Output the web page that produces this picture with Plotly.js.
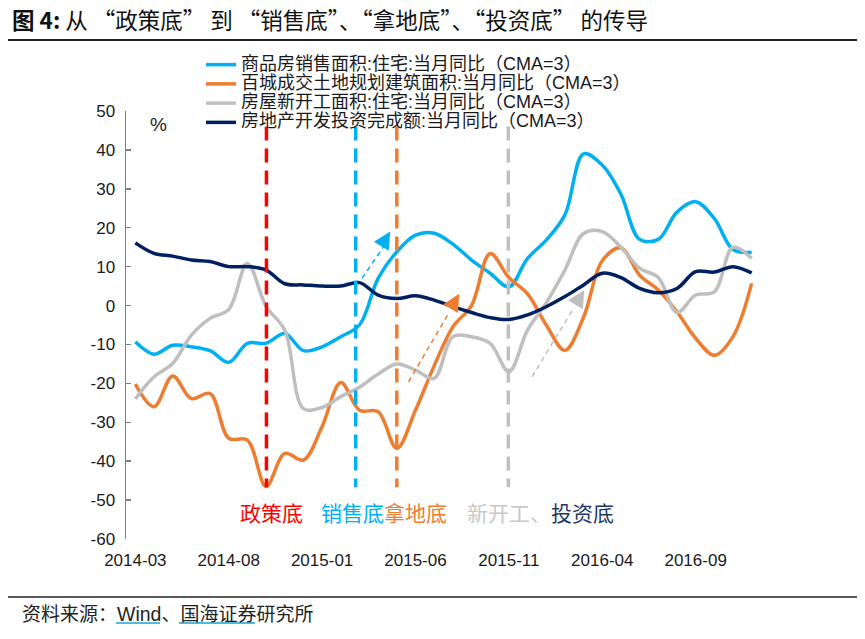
<!DOCTYPE html>
<html><head><meta charset="utf-8">
<script src="https://cdn.plot.ly/plotly-3.0.1.min.js"></script>
<style>html,body{margin:0;padding:0;background:#fff}#chart{width:865px;height:639px}</style>
</head><body><div id="chart"></div>
<script>
// ---- data ----
const months = ['2014-03','2014-04','2014-05','2014-06','2014-07','2014-08','2014-09','2014-10','2014-11','2014-12',
  '2015-01','2015-02','2015-03','2015-04','2015-05','2015-06','2015-07','2015-08','2015-09','2015-10',
  '2015-11','2015-12','2016-01','2016-02','2016-03','2016-04','2016-05','2016-06','2016-07','2016-08',
  '2016-09','2016-10','2016-11','2016-12'];
// 商品房销售面积:住宅:当月同比（CMA=3）
const salesArea = [-9.3,-12.5,-10.2,-10.6,-11.6,-14.6,-9.7,-9.7,-7.2,-11.6,
  -10.6,-8.0,-5.0,7.0,13.8,18.1,18.6,15.8,11.7,8.3,
  4.8,12.1,16.8,23.3,39.0,36.1,28.6,17.0,17.0,24.0,
  26.7,22.4,14.4,13.7];
// 百城成交土地规划建筑面积:当月同比（CMA=3）
const landArea = [-20.2,-26.0,-18.1,-23.9,-22.6,-34.1,-34.6,-46.5,-38.0,-39.7,
  -31.1,-19.8,-26.9,-27.3,-36.7,-26.9,-15.5,-5.5,0.0,13.4,
  7.2,3.0,-5.0,-11.5,-3.0,11.5,14.8,7.8,4.0,-1.6,
  -8.4,-12.8,-8.0,5.7];
// 房屋新开工面积:住宅:当月同比（CMA=3）
const newStarts = [-24.0,-18.3,-14.9,-7.6,-3.3,-1.0,10.8,-0.2,-6.3,-26.5,
  -26.2,-23.4,-21.0,-17.6,-15.0,-16.6,-18.7,-8.0,-8.0,-9.7,
  -17.0,-6.3,0.7,9.1,18.5,19.0,15.0,9.6,7.2,-1.8,
  2.7,3.5,15.0,12.1];
// 房地产开发投资完成额:当月同比（CMA=3）
const investment = [16.1,13.4,12.7,11.7,11.3,10.0,10.0,9.1,5.6,5.3,
  5.0,5.0,5.9,2.7,1.8,2.5,1.4,-0.3,-1.8,-3.1,
  -3.6,-2.4,-0.3,2.3,5.3,8.3,7.2,4.4,3.3,4.4,
  8.7,8.6,10.0,8.4];
const seriesNames = ['商品房销售面积:住宅:当月同比（CMA=3）','百城成交土地规划建筑面积:当月同比（CMA=3）',
  '房屋新开工面积:住宅:当月同比（CMA=3）','房地产开发投资完成额:当月同比（CMA=3）'];
const tickLabels = ['2014-03','2014-08','2015-01','2015-06','2015-11','2016-04','2016-09'];
const yTickVals = [-60,-50,-40,-30,-20,-10,0,10,20,30,40,50];
const yTickText = ['-60','-50','-40','-30','-20','-10','0','10','20','30','40','50'];
const yRange = [-60, 50];

// ---- styling ----
const colors = ['#00B0F0','#ED7D31','#BFBFBF','#002060'];
const seriesData = [salesArea, landArea, newStarts, investment];
const CJK = 'Noto Sans CJK SC';
const LAT = 'Liberation Sans, Arial, Noto Sans CJK SC';

const traces = seriesData.map((vals, i) => ({
  type: 'scatter', mode: 'lines', x: months, y: vals,
  name: '<span style="font-size:18px">' + seriesNames[i] + '</span>',
  line: {color: colors[i], width: 3.5, shape: 'spline', smoothing: 1},
  hoverinfo: 'skip'
}));

const zeroPos = -yRange[0] / (yRange[1] - yRange[0]);
const boundaryTicks = tickLabels.slice(1).map(t => months.indexOf(t) - 0.5);

function vline(x, color) {
  return {type:'line', xref:'x', yref:'y', x0:x, x1:x, y0:46, y1:-46.7,
    line:{color:color, width:3.5, dash:'14px,8px'}, layer:'above'};
}
function dline(x0, y0, x1, y1, color) {
  return {type:'line', xref:'x', yref:'y', x0:x0, y0:y0, x1:x1, y1:y1,
    line:{color:color, width:1.5, dash:'5px,4px'}, layer:'above'};
}
function arrowHead(x, y, ax, ay, color) {
  return {xref:'x', yref:'y', x:x, y:y, ax:ax, ay:ay, text:'', showarrow:true,
    arrowhead:2, arrowsize:2.3, arrowwidth:1.5, arrowcolor:color};
}
const px = (p) => (p - 539) / -428; // pixel row -> paper y
const pxx = (p) => (p - 126) / 635; // pixel col -> paper x

const layout = {
  width: 865, height: 639,
  margin: {l:126, r:104, t:111, b:100},
  paper_bgcolor: '#fff', plot_bgcolor: '#fff',
  showlegend: true,
  title: {text: '<b>图 4:</b> 从 “政策底” 到 “销售底”、“拿地底”、“投资底” 的传导',
    font:{family: CJK, size:22.5, color:'#111'},
    x: 12/865, xref:'container', xanchor:'left', y: 1 - 21/639, yref:'container', yanchor:'middle'},
  legend: {x: pxx(201), y: px(50), xanchor:'left', yanchor:'top', bgcolor:'rgba(0,0,0,0)',
    font:{family: LAT, size:12.5, color:'#1a1a1a'}, traceorder:'normal'},
  xaxis: {type:'category', range:[-0.5, months.length - 0.5], tickvals: tickLabels, ticktext: tickLabels,
    ticks:'', showline:false, showgrid:false, zeroline:false, fixedrange:true,
    tickfont:{family: LAT, size:17, color:'#1a1a1a'}, ticklabelstandoff: 9},
  xaxis2: {overlaying:'x', anchor:'free', position: zeroPos, type:'linear',
    range:[-0.5, months.length - 0.5], tickvals: boundaryTicks, ticks:'inside', ticklen:5,
    tickwidth:1.5, tickcolor:'#7f7f7f', showline:true, linecolor:'#7f7f7f', linewidth:1.5,
    showticklabels:false, showgrid:false, zeroline:false, fixedrange:true},
  yaxis: {range: yRange, tickvals: yTickVals, ticktext: yTickText, ticks:'inside', ticklen:5,
    tickwidth:1.5, tickcolor:'#7f7f7f', showline:true, linecolor:'#7f7f7f', linewidth:1.5,
    showgrid:false, zeroline:false, fixedrange:true,
    tickfont:{family: LAT, size:17, color:'#1a1a1a'}, ticklabelstandoff: 6},
  shapes: [
    vline(7.02, '#FF0000'), vline(11.8, '#00B0F0'), vline(14.0, '#ED7D31'), vline(19.97, '#BFBFBF'),
    dline(12.14, 7.0, 13.3, 15.2, '#00B0F0'),
    dline(14.63, -19.6, 16.8, -1.8, '#ED7D31'),
    dline(21.24, -18.3, 23.5, -0.4, '#BFBFBF'),
    {type:'line', xref:'paper', yref:'paper', x0:pxx(8), x1:pxx(857), y0:px(40), y1:px(40), line:{color:'#222', width:2}},
    {type:'line', xref:'paper', yref:'paper', x0:pxx(8), x1:pxx(857), y0:px(597), y1:px(597), line:{color:'#222', width:1.5}},
    {type:'line', xref:'paper', yref:'paper', x0:pxx(116), x1:pxx(160), y0:px(623), y1:px(623), line:{color:'#1BA1C8', width:1.5}},
    {type:'line', xref:'paper', yref:'paper', x0:pxx(179), x1:pxx(255), y0:px(623), y1:px(623), line:{color:'#1BA1C8', width:1.5}}
  ],
  annotations: [
    {xref:'paper', yref:'paper', x:pxx(158), y:px(125), xanchor:'center', yanchor:'middle', text:'%', showarrow:false,
      font:{family: LAT, size:19, color:'#1a1a1a'}},
    arrowHead(13.65, 19.0, -7.3, 12, '#00B0F0'),
    arrowHead(17.34, 3.0, -7, 12.1, '#ED7D31'),
    arrowHead(24.04, 4.0, -7.2, 12, '#BFBFBF'),
    {xref:'x', yref:'y', x:7.31, y:-53.1, xanchor:'center', yanchor:'middle', text:'<span style="color:#FF0000">政策底</span>', showarrow:false,
      font:{family: CJK, size:21}},
    {xref:'x', yref:'y', x:13.33, y:-53.1, xanchor:'center', yanchor:'middle', text:'<span style="color:#00B0F0">销售底</span><span style="color:#ED7D31">拿地底</span>', showarrow:false,
      font:{family: CJK, size:21}},
    {xref:'x', yref:'y', x:21.68, y:-53.1, xanchor:'center', yanchor:'middle', text:'<span style="color:#C8C8C8">新开工、</span><span style="color:#1F3864">投资底</span>', showarrow:false,
      font:{family: CJK, size:21}},
    {xref:'paper', yref:'paper', x:pxx(20), y:px(612), xanchor:'left', yanchor:'middle', showarrow:false,
      text:'资料来源：<span style="font-family:Liberation Sans, Arial;font-size:19.5px">Wind</span>、国海证券研究所',
      font:{family: CJK, size:19, color:'#222'}}
  ]
};

Plotly.newPlot('chart', traces, layout, {displayModeBar:false, staticPlot:true});
</script>
</body></html>
